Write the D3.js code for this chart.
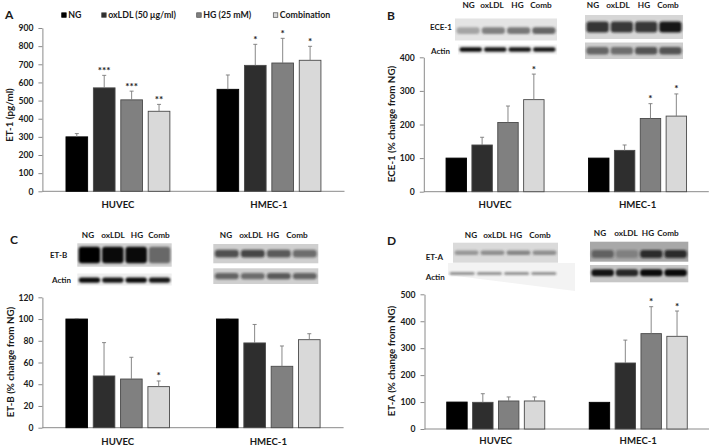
<!DOCTYPE html>
<html><head><meta charset="utf-8">
<script src="https://cdn.jsdelivr.net/npm/d3@7"></script>
<style>
body{margin:0;background:#fff;}
svg text{font-family:Lato,"Open Sans",sans-serif;font-weight:700;fill:#1a1a1a;}
</style></head>
<body><svg id="c" width="709" height="446"></svg>
<script>
// ---------- data ----------
const groups = ["HUVEC", "HMEC-1"];
const treatments = ["NG", "oxLDL (50 μg/ml)", "HG (25 mM)", "Combination"];
const laneLabels = ["NG", "oxLDL", "HG", "Comb"];
const barColors = ["#000000", "#2e2e2e", "#808080", "#d9d9d9"];

// Panel A: ET-1 (pg/ml)
const et1Mean = [[300, 570, 504, 441], [562, 694, 707, 722]];
const et1Err  = [[18, 69, 48, 38], [79, 116, 136, 77]];
const et1Stars = [["", "***", "***", "**"], ["", "*", "*", "*"]];
const et1Ticks = [0, 100, 200, 300, 400, 500, 600, 700, 800, 900];

// Panel B: ECE-1 (% change from NG)
const ece1Mean = [[100, 139, 206, 274], [100, 123, 218, 225]];
const ece1Err  = [[0, 23, 49, 76], [0, 16, 44, 66]];
const ece1Stars = [["", "", "", "*"], ["", "", "*", "*"]];
const ece1Ticks = [0, 100, 200, 300, 400];

// Panel C: ET-B (% change from NG)
const etbMean = [[100, 47.6, 44.8, 37.8], [100, 78, 56.5, 81]];
const etbErr  = [[0.4, 30.7, 20, 5.2], [0.4, 17, 18.7, 5.5]];
const etbStars = [["", "", "", "*"], ["", "", "", ""]];
const etbTicks = [0, 20, 40, 60, 80, 100, 120];

// Panel D: ET-A (% change from NG)
const etaMean = [[100, 99, 104, 104], [99, 245, 354, 344]];
const etaErr  = [[0, 32, 15, 15], [0, 85, 100, 94]];
const etaStars = [["", "", "", ""], ["", "", "*", "*"]];
const etaTicks = [0, 100, 200, 300, 400, 500];

// Western blot band intensities (qualitative, per lane)
const blotB = {huvec:[0.35,0.55,0.6,0.7], huvecActin:[0.95,0.9,0.9,0.9], hmec:[0.8,0.78,0.78,0.95], hmecActin:[0.6,0.55,0.7,0.7]};
const blotC = {huvec:[1,0.95,0.95,0.5], huvecActin:[0.95,0.9,0.95,0.9], hmec:[0.65,0.7,0.6,0.5], hmecActin:[0.55,0.5,0.6,0.55]};
const blotD = {huvec:[0.4,0.45,0.5,0.45], huvecActin:[0.45,0.45,0.45,0.45], hmec:[0.45,0.25,0.8,0.8], hmecActin:[0.9,0.8,0.95,0.95]};

// ---------- drawing ----------
const svg = d3.select("#c");
const defs = svg.append("defs");
defs.append("filter").attr("id","blur").attr("x","-20%").attr("y","-50%").attr("width","140%").attr("height","200%")
  .append("feGaussianBlur").attr("stdDeviation","1.1");

function panel(cfg){
  const g = svg.append("g");
  const x = d3.scaleBand().domain(groups).range(cfg.xr);
  const xi = d3.scaleBand().domain(treatments).range([0, x.bandwidth()]).paddingInner(0.21).paddingOuter(0.86);
  const y = d3.scaleLinear().domain([0, cfg.ticks[cfg.ticks.length-1]]).range([cfg.y0, cfg.yTop]);

  const ax = g.append("g").attr("transform", `translate(${cfg.xr[0]},0)`)
    .call(d3.axisLeft(y).tickValues(cfg.ticks).tickSize(4).tickPadding(5).tickSizeOuter(0));
  ax.select(".domain").attr("stroke","#8a8a8a");
  ax.selectAll(".tick line").attr("stroke","#8a8a8a");
  ax.selectAll(".tick text").attr("font-size", 8.6).attr("font-family","Lato").attr("font-weight",700).attr("fill","#1a1a1a");

  g.append("line").attr("x1", cfg.xr[0]).attr("x2", cfg.xr[1]).attr("y1", y(0)).attr("y2", y(0))
    .attr("stroke","#8a8a8a").attr("stroke-width",1);

  groups.forEach((grp, gi) => {
    const gx = x(grp);
    treatments.forEach((t, ti) => {
      const v = cfg.mean[gi][ti], e = cfg.err[gi][ti];
      const bx = gx + xi(t), bw = xi.bandwidth();
      g.append("rect").attr("x", bx).attr("y", y(v)).attr("width", bw).attr("height", y(0) - y(v))
        .attr("fill", barColors[ti]).attr("stroke", ti === 0 ? "#000" : "#4a4a4a").attr("stroke-width", 0.9);
      if (e > 0) {
        const cx = bx + bw/2;
        g.append("line").attr("x1", cx).attr("x2", cx).attr("y1", y(v)).attr("y2", y(v+e)).attr("stroke","#7a7a7a").attr("stroke-width",0.9);
        g.append("line").attr("x1", cx-2).attr("x2", cx+2).attr("y1", y(v+e)).attr("y2", y(v+e)).attr("stroke","#7a7a7a").attr("stroke-width",0.9);
      }
      const s = cfg.stars[gi][ti];
      if (s) g.append("text").attr("x", bx + bw/2).attr("y", y(v+e) - 1.5).attr("text-anchor","middle")
        .attr("font-size", 10).text(s);
    });
    g.append("text").attr("x", gx + x.bandwidth()/2).attr("y", cfg.y0 + cfg.catDy).attr("text-anchor","middle")
      .attr("font-size", 9.6).text(grp);
  });

  g.append("text").attr("transform", `translate(${cfg.titleX},${cfg.titleY}) rotate(-90)`)
    .attr("text-anchor","middle").attr("font-size", 9.8).text(cfg.title);
  g.append("text").attr("x", cfg.letter[0]).attr("y", cfg.letter[1]).attr("font-size", 12).text(cfg.letter[2]);
  return g;
}

function blot(x0, y0, w, h, bg, bands, opt){
  opt = opt || {};
  const g = svg.append("g");
  if (opt.poly) {
    g.append("polygon").attr("points", opt.poly.map(p=>p.join(",")).join(" ")).attr("fill", bg);
  } else {
    g.append("rect").attr("x", x0).attr("y", y0).attr("width", w).attr("height", h).attr("fill", bg);
  }
  const lane = d3.scaleBand().domain(d3.range(bands.length)).range([x0, x0 + w]).paddingInner(0.08).paddingOuter(0.06);
  bands.forEach((b, i) => {
    const bh = (opt.bandH || 0.35) * h;
    const by = y0 + (opt.bandY || 0.5) * h - bh/2;
    g.append("rect").attr("x", lane(i)).attr("y", by).attr("width", lane.bandwidth()).attr("height", bh)
      .attr("rx", Math.min(bh/2, 3)).attr("fill", opt.color || "#111").attr("opacity", b).attr("filter","url(#blur)");
  });
  return g;
}
function lanes(centers, yb){
  laneLabels.forEach((l, i) => svg.append("text").attr("x", centers[i]).attr("y", yb)
    .attr("text-anchor","middle").attr("font-size", 8.2).text(l));
}
function rowLabel(txt, x, y){ svg.append("text").attr("x", x).attr("y", y).attr("font-size", 8).text(txt); }

// Panel A
panel({xr:[42.4,344.5], y0:191.3, yTop:28, ticks:et1Ticks, mean:et1Mean, err:et1Err, stars:et1Stars,
  catDy:16.5, title:"ET-1 (pg/ml)", titleX:13, titleY:115, letter:[5,19,"A"]});
const legX = [61.7, 101.7, 196.7, 273.3];
treatments.forEach((t, i) => {
  svg.append("rect").attr("x", legX[i]).attr("y", 12.8).attr("width", 4.5).attr("height", 4.5)
    .attr("fill", barColors[i]).attr("stroke", i===0?"#000":"#4a4a4a").attr("stroke-width",0.7);
  svg.append("text").attr("x", legX[i] + 6.5).attr("y", 18.3).attr("font-size", 8.8).text(t);
});

// Panel B
panel({xr:[423.8,708.8], y0:191.7, yTop:57.3, ticks:ece1Ticks, mean:ece1Mean, err:ece1Err, stars:ece1Stars,
  catDy:16.5, title:"ECE-1 (% change from NG)", titleX:395, titleY:124, letter:[387,20,"B"]});
blot(455, 18.5, 102, 22, "#e4e4e4", blotB.huvec, {color:"#333", bandH:0.3, bandY:0.55});
blot(458, 44.5, 99, 10, "#f3f3f3", blotB.huvecActin, {color:"#000", bandH:0.45, bandY:0.5});
blot(585, 15, 98, 24, "#d6d6d6", blotB.hmec, {color:"#111", bandH:0.45, bandY:0.5});
blot(585, 42.5, 98, 16.5, "#cdcdcd", blotB.hmecActin, {color:"#222", bandH:0.45, bandY:0.5});
rowLabel("ECE-1", 430, 30);
rowLabel("Actin", 431, 53.5);
lanes([468.7, 492, 517.5, 541], 8);
lanes([593, 618, 644, 668], 7.5);

// Panel C
panel({xr:[42.4,343.6], y0:427.7, yTop:297.3, ticks:etbTicks, mean:etbMean, err:etbErr, stars:etbStars,
  catDy:17, title:"ET-B (% change from NG)", titleX:14, titleY:362, letter:[10,244,"C"]});
blot(77.3, 243.3, 94.4, 23.4, "#d2d2d2", blotC.huvec, {color:"#000", bandH:0.7, bandY:0.5});
blot(77.3, 273.5, 94.4, 12, "#eeeeee", blotC.huvecActin, {color:"#000", bandH:0.45, bandY:0.55});
blot(213.3, 244, 105, 19.3, "#cfcfcf", blotC.hmec, {color:"#111", bandH:0.4, bandY:0.5});
blot(213.3, 268.3, 105, 15.7, "#cfcfcf", blotC.hmecActin, {color:"#111", bandH:0.4, bandY:0.5});
rowLabel("ET-B", 50, 258);
rowLabel("Actin", 52, 283);
lanes([88, 113, 137, 159], 238);
lanes([226, 251, 273, 297], 238);

// Panel D
panel({xr:[424.5,709.5], y0:429, yTop:294.3, ticks:etaTicks, mean:etaMean, err:etaErr, stars:etaStars,
  catDy:14.5, title:"ET-A (% change from NG)", titleX:395, titleY:361, letter:[387,245,"D"]});
blot(453, 242.7, 105, 20, "#dadada", blotD.huvec, {color:"#333", bandH:0.22, bandY:0.5});
blot(448, 268, 110, 10, "#f3f3f3", blotD.huvecActin, {color:"#222", bandH:0.3, bandY:0.55,
  poly:[[448,263],[575,263],[575,291],[448,275]]});
blot(590, 241.7, 98.3, 20, "#a8a8a8", blotD.hmec, {color:"#111", bandH:0.4, bandY:0.62});
blot(590, 265, 98.3, 17.3, "#c6c6c6", blotD.hmecActin, {color:"#000", bandH:0.4, bandY:0.45});
rowLabel("ET-A", 425.7, 259.5);
rowLabel("Actin", 425.7, 279.5);
lanes([471, 495, 516, 540], 238);
lanes([600, 626, 648, 668], 236);
</script></body></html>
